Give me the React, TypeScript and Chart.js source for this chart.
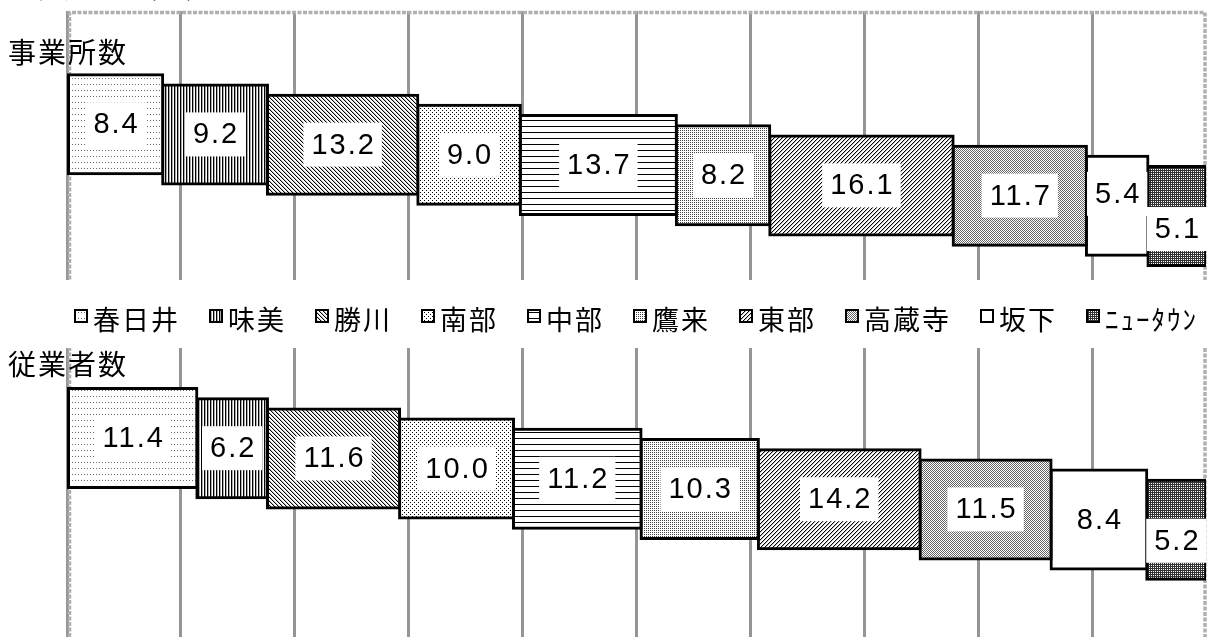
import React, { useEffect, useRef } from 'react';
import { Chart, registerables } from 'chart.js';

Chart.register(...registerables);

// ---------- data ----------
const TITLE = '構成比 （%）';
const CATEGORIES = ['事業所数', '従業者数'];
const AREAS = ['春日井', '味美', '勝川', '南部', '中部', '鷹来', '東部', '高蔵寺', '坂下', 'ﾆｭｰﾀｳﾝ'];
const OFFICES = [8.4, 9.2, 13.2, 9.0, 13.7, 8.2, 16.1, 11.7, 5.4, 5.1];
const WORKERS = [11.4, 6.2, 11.6, 10.0, 11.2, 10.3, 14.2, 11.5, 8.4, 5.2];
const SERIES = [OFFICES, WORKERS];
const X_MIN = 0;
const X_MAX = 100;
const X_STEP = 10;

// ---------- layout / style ----------
const W = 1208;
const H = 637;
const Y_MAX = 61.37; // value range of the hidden vertical scale
const ROW_CENTERS = [11.1, 41.86];
const STAGGER = 1;
const BAND = [280, 348];
const CAT_BASELINES = [63, 375];
const LABEL_NUDGE: Record<string, number> = { '0-8': -12, '0-9': 13, '1-9': 11 };

type Px = [number, number, string];
const PATTERN_DEFS: { w: number; h: number; px: Px[] }[] = [
  { w: 3, h: 6, px: [[0, 0, '#666']] },
  { w: 3, h: 1, px: [[0, 0, '#000'], [1, 0, '#aaa']] },
  { w: 4, h: 4, px: [[0, 0, '#000'], [1, 1, '#000'], [2, 2, '#000'], [3, 3, '#000'], [1, 0, '#bbb'], [2, 1, '#bbb'], [3, 2, '#bbb'], [0, 3, '#bbb']] },
  { w: 4, h: 4, px: [[0, 0, '#000'], [2, 2, '#000']] },
  { w: 1, h: 6, px: [[0, 0, '#000']] },
  { w: 2, h: 2, px: [[0, 0, '#444']] },
  { w: 4, h: 4, px: [[3, 0, '#000'], [2, 1, '#000'], [1, 2, '#000'], [0, 3, '#000'], [0, 0, '#bbb'], [3, 1, '#bbb'], [2, 2, '#bbb'], [1, 3, '#bbb']] },
  { w: 2, h: 2, px: [[0, 0, '#666'], [1, 1, '#666']] },
  { w: 1, h: 1, px: [] },
  { w: 2, h: 2, px: [[0, 0, '#333'], [0, 1, '#333'], [1, 0, '#333']] },
];

function makePattern(ctx: CanvasRenderingContext2D, def: { w: number; h: number; px: Px[] }) {
  const c = document.createElement('canvas');
  c.width = def.w;
  c.height = def.h;
  const t = c.getContext('2d')!;
  t.fillStyle = '#fff';
  t.fillRect(0, 0, def.w, def.h);
  def.px.forEach(([x, y, col]) => {
    t.fillStyle = col;
    t.fillRect(x, y, 1, 1);
  });
  return ctx.createPattern(c, 'repeat')!;
}

export default function App() {
  const ref = useRef<HTMLCanvasElement>(null);

  useEffect(() => {
    const canvas = ref.current!;
    const ctx0 = canvas.getContext('2d')!;
    const patterns = PATTERN_DEFS.map((d) => makePattern(ctx0, d));

    const datasets = AREAS.map((name, i) => ({
      label: name,
      data: SERIES.map((vals, r) => {
        const start = vals.slice(0, i).reduce((a, b) => a + b, 0);
        return { x: [start, start + vals[i]], y: ROW_CENTERS[r] + i * STAGGER };
      }),
      backgroundColor: patterns[i],
      borderColor: '#000',
      borderWidth: 3,
      borderSkipped: false,
      inflateAmount: 1.5,
      barThickness: 99,
      grouped: false,
    }));

    const decor = {
      id: 'decor',
      beforeDatasetsDraw(chart: any) {
        const { ctx, chartArea: a } = chart;
        ctx.save();
        ctx.strokeStyle = '#b0b0b0';
        ctx.lineWidth = 3.5;
        ctx.setLineDash([4, 1.5]);
        ctx.beginPath();
        ctx.moveTo(a.left + 2.5, a.bottom);
        ctx.lineTo(a.left + 2.5, a.top + 1.5);
        ctx.lineTo(a.right - 1, a.top + 1.5);
        ctx.lineTo(a.right - 1, a.bottom);
        ctx.stroke();
        ctx.setLineDash([]);
        ctx.fillStyle = '#fff';
        ctx.fillRect(0, BAND[0], chart.width, BAND[1] - BAND[0]);
        ctx.restore();
      },
      afterDatasetsDraw(chart: any) {
        const ctx = chart.ctx;
        ctx.save();
        ctx.font = '29px "Liberation Sans", Arial, sans-serif';
        (ctx as any).letterSpacing = '2px';
        ctx.textAlign = 'left';
        ctx.textBaseline = 'middle';
        chart.data.datasets.forEach((_ds: any, i: number) => {
          const meta = chart.getDatasetMeta(i);
          meta.data.forEach((el: any, r: number) => {
            const { x, y, base } = el.getProps(['x', 'y', 'base'], true);
            const cx = (x + base) / 2;
            const cy = y + (LABEL_NUDGE[`${r}-${i}`] || 0);
            const text = SERIES[r][i].toFixed(1);
            const w = ctx.measureText(text).width - 2;
            ctx.fillStyle = '#fff';
            ctx.fillRect(cx - w / 2 - 8, cy - 22, w + 16, 44);
            ctx.fillStyle = '#000';
            ctx.fillText(text, cx - w / 2, cy + 1);
          });
        });
        ctx.restore();
      },
      afterDraw(chart: any) {
        const { ctx, chartArea: a } = chart;
        ctx.save();
        ctx.fillStyle = '#000';
        ctx.textBaseline = 'alphabetic';
        ctx.textAlign = 'left';
        // title (cut off at the top edge)
        ctx.font = '27px "Noto Sans CJK JP", sans-serif';
        (ctx as any).letterSpacing = '2px';
        ctx.fillText(TITLE, 35, -2);
        // category labels
        ctx.font = '28px "Noto Sans CJK JP", sans-serif';
        CATEGORIES.forEach((c, r) => ctx.fillText(c, 8, CAT_BASELINES[r]));
        // legend
        ctx.font = '27px "Noto Sans CJK JP", sans-serif';
        let lx = a.left + 8;
        const my = 310;
        chart.data.datasets.forEach((ds: any) => {
          ctx.fillStyle = ds.backgroundColor;
          ctx.fillRect(lx, my, 12, 12);
          ctx.strokeStyle = '#000';
          ctx.lineWidth = 2;
          ctx.strokeRect(lx, my, 12, 12);
          ctx.fillStyle = '#000';
          ctx.fillText(ds.label, lx + 18, 330);
          lx += 18 + ctx.measureText(ds.label).width + 30;
        });
        ctx.restore();
      },
    };

    const chart = new Chart(canvas, {
      type: 'bar',
      data: { datasets } as any,
      options: {
        indexAxis: 'y',
        animation: false,
        responsive: false,
        layout: { padding: { left: 67, top: 11, right: 2, bottom: 0 } },
        scales: {
          x: {
            type: 'linear',
            min: X_MIN,
            max: X_MAX,
            offset: false,
            ticks: { display: false, stepSize: X_STEP },
            grid: {
              color: (c: any) => (c.tick && c.tick.value === X_MAX ? 'rgba(0,0,0,0)' : '#959595'),
              lineWidth: 3,
              drawTicks: false,
              offset: false,
            },
            border: { display: false },
          },
          y: { type: 'linear', min: 0, max: Y_MAX, reverse: true, offset: false, display: false },
        },
        plugins: { legend: { display: false }, tooltip: { enabled: false } },
      } as any,
      plugins: [decor],
    });
    return () => chart.destroy();
  }, []);

  return (
    <div style={{ position: 'fixed', left: 0, top: 0, width: W, height: H, background: '#fff' }}>
      <canvas ref={ref} width={W} height={H} />
    </div>
  );
}
